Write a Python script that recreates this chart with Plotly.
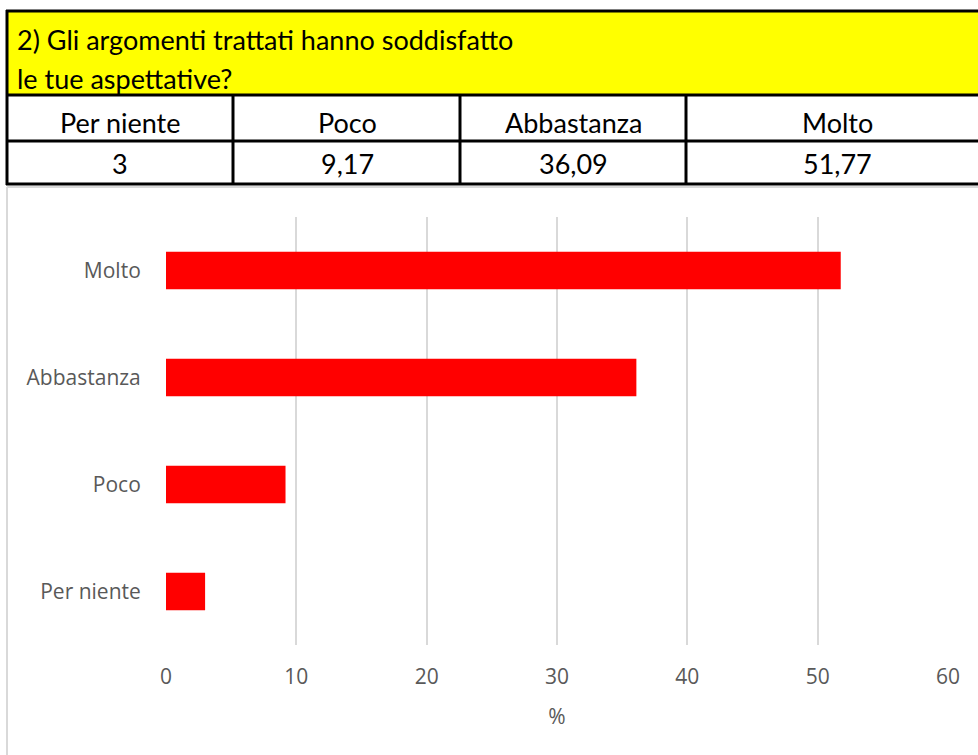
import plotly.graph_objects as go

# Survey question and answers
title_lines = ["2) Gli argomenti trattati hanno soddisfatto", "le tue aspettative?"]
categories = ["Per niente", "Poco", "Abbastanza", "Molto"]
values = [3, 9.17, 36.09, 51.77]
x_ticks = [0, 10, 20, 30, 40, 50, 60]
axis_label = "%"

W, H = 978, 755
BAR_RED = "#ff0000"
GRID = "#d9d9d9"
LABEL = "#595959"
TABLE_FONT = "Lato, 'Liberation Sans', sans-serif"
CHART_FONT = "'Open Sans', 'Noto Sans', sans-serif"


def px(x):
    return x / W


def py(y):
    return 1 - y / H


def fmt(v):
    return f"{v:g}".replace(".", ",")


fig = go.Figure(
    go.Bar(
        x=values,
        y=categories,
        orientation="h",
        marker=dict(color=BAR_RED, line=dict(width=0)),
        width=0.35,
        hoverinfo="x+y",
    )
)

shapes = []
annotations = []

# yellow header band
shapes.append(dict(type="rect", xref="paper", yref="paper",
                   x0=px(7), x1=px(W + 5), y0=py(95), y1=py(11),
                   fillcolor="#ffff00", line=dict(width=0), layer="below"))

# chart area frame (light grey)
shapes.append(dict(type="line", xref="paper", yref="paper",
                   x0=px(7), x1=px(W + 5), y0=py(187), y1=py(187),
                   line=dict(color=GRID, width=2)))
shapes.append(dict(type="line", xref="paper", yref="paper",
                   x0=px(7), x1=px(7), y0=py(187), y1=py(H + 5),
                   line=dict(color=GRID, width=2)))

# table borders
for y in (11, 95, 141, 184):
    shapes.append(dict(type="line", xref="paper", yref="paper",
                       x0=px(6), x1=px(W + 5), y0=py(y), y1=py(y),
                       line=dict(color="black", width=3)))
shapes.append(dict(type="line", xref="paper", yref="paper",
                   x0=px(7), x1=px(7), y0=py(10), y1=py(185),
                   line=dict(color="black", width=3)))
for x in (233, 460, 686):
    shapes.append(dict(type="line", xref="paper", yref="paper",
                       x0=px(x), x1=px(x), y0=py(95), y1=py(185),
                       line=dict(color="black", width=3)))

# header text
for text, yc in zip(title_lines, (39, 78)):
    annotations.append(dict(text=text, xref="paper", yref="paper",
                            x=px(15), y=py(yc), xanchor="left", yanchor="middle",
                            showarrow=False, font=dict(family=TABLE_FONT, size=27, color="black")))

# table cells
col_centers = [120, 347, 573, 837]
for cat, val, xc in zip(categories, values, col_centers):
    annotations.append(dict(text=cat, xref="paper", yref="paper",
                            x=px(xc), y=py(122), xanchor="center", yanchor="middle",
                            showarrow=False, font=dict(family=TABLE_FONT, size=27, color="black")))
    annotations.append(dict(text=fmt(val), xref="paper", yref="paper",
                            x=px(xc), y=py(163), xanchor="center", yanchor="middle",
                            showarrow=False, font=dict(family=TABLE_FONT, size=27, color="black")))

fig.update_layout(
    width=W,
    height=H,
    margin=dict(l=0, r=0, t=0, b=0, autoexpand=False),
    paper_bgcolor="white",
    plot_bgcolor="white",
    showlegend=False,
    shapes=shapes,
    annotations=annotations,
    font=dict(family=CHART_FONT, size=21, color=LABEL),
    xaxis=dict(
        domain=[px(166), px(948)],
        range=[0, 60],
        tickvals=x_ticks,
        showgrid=True,
        gridcolor=GRID,
        gridwidth=2,
        zeroline=False,
        showline=False,
        automargin=False,
        ticks="outside",
        ticklen=13,
        tickcolor="rgba(0,0,0,0)",
        tickfont=dict(family=CHART_FONT, size=21, color=LABEL),
        title=dict(text=axis_label, standoff=20,
                   font=dict(family=CHART_FONT, size=21, color=LABEL)),
        fixedrange=True,
    ),
    yaxis=dict(
        domain=[py(645), py(217)],
        categoryorder="array",
        categoryarray=categories,
        range=[-0.5, 3.5],
        showgrid=False,
        zeroline=False,
        showline=False,
        automargin=False,
        ticks="outside",
        ticklen=20,
        tickcolor="rgba(0,0,0,0)",
        tickfont=dict(family=CHART_FONT, size=21, color=LABEL),
        fixedrange=True,
    ),
)

fig.write_html("out.html")
